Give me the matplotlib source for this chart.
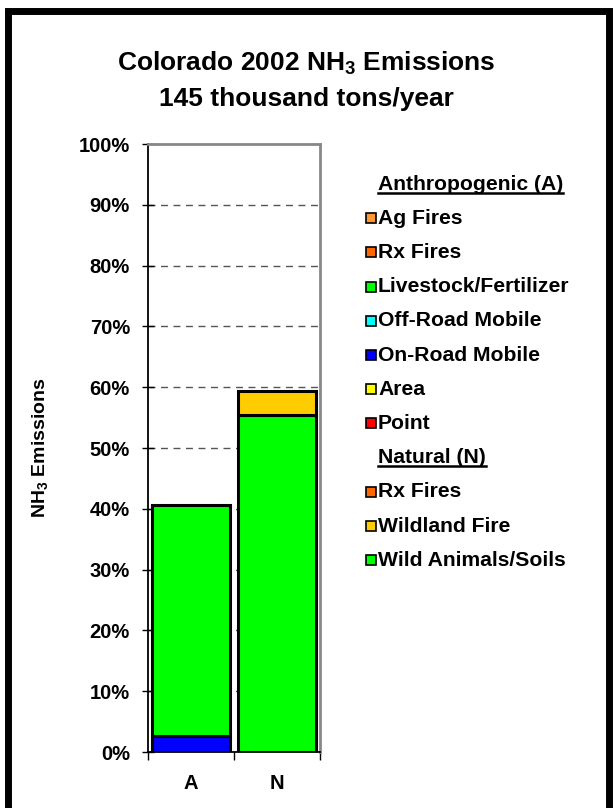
import numpy as np
import matplotlib
matplotlib.use('Agg')
import matplotlib.pyplot as plt
from matplotlib.patches import Rectangle
from matplotlib.lines import Line2D

plt.rcParams['font.family'] = ['Liberation Sans', 'DejaVu Sans']
plt.rcParams['font.weight'] = 'bold'
plt.rcParams['mathtext.fontset'] = 'custom'
plt.rcParams['mathtext.rm'] = 'Liberation Sans:bold'
plt.rcParams['mathtext.bf'] = 'Liberation Sans:bold'
plt.rcParams['mathtext.default'] = 'bf'

categories = ['A', 'N']

# anthropogenic sources (bar A), percent of total
anthro_labels = ['Ag Fires', 'Rx Fires', 'Livestock/Fertilizer', 'Off-Road Mobile',
                 'On-Road Mobile', 'Area', 'Point']
anthro_colors = ['#FF9933', '#FF6600', '#00FF00', '#00FFFF', '#0000FF', '#FFFF00', '#FF0000']
anthro_values = [0.0, 0.0, 38.0, 0.0, 2.6, 0.0, 0.0]

# natural sources (bar N), percent of total
natural_labels = ['Rx Fires', 'Wildland Fire', 'Wild Animals/Soils']
natural_colors = ['#FF6600', '#FFCC00', '#00FF00']
natural_values = [0.0, 3.9, 55.5]

yticks = np.arange(0, 101, 10)

W, H = 613, 808
fig = plt.figure(figsize=(W / 100, H / 100), dpi=100)
ax = fig.add_axes([148 / W, 56 / H, 172 / W, 608 / H])

# stack from the bottom: legend order is top-down, so reverse
def stack(xpos, values, colors):
    bottom = 0.0
    for v, c in zip(values[::-1], colors[::-1]):
        if v <= 0:
            continue
        ax.bar(xpos, v, width=0.91, bottom=bottom, color=c, edgecolor='black',
               linewidth=2.2, zorder=3)
        bottom += v

stack(0, anthro_values, anthro_colors)
stack(1, natural_values, natural_colors)

fs = 14.5
ax.set_xlim(-0.5, 1.5)
ax.set_ylim(0, 100)
ax.set_yticks(yticks)
ax.set_yticklabels(['%d%%' % t for t in yticks], fontsize=fs, fontweight='bold')
ax.set_xticks([0, 1])
ax.set_xticklabels(categories, fontsize=fs, fontweight='bold')
ax.set_xticks([-0.5, 0.5, 1.5], minor=True)
ax.tick_params(axis='x', which='major', length=0, pad=16)
ax.tick_params(axis='x', which='minor', length=6, direction='out', width=1)
ax.tick_params(axis='y', length=8, direction='inout', width=1, pad=9)

for t in yticks[1:-1]:
    ax.axhline(t, color='#555555', linestyle=(0, (5, 4)), linewidth=1, zorder=1)

for s in ['left', 'bottom']:
    ax.spines[s].set_color('black')
    ax.spines[s].set_linewidth(1.3)
for s in ['top', 'right']:
    ax.spines[s].set_color('#888888')
    ax.spines[s].set_linewidth(2)

ax.set_ylabel('NH$_3$ Emissions', fontsize=14, fontweight='bold')
ax.yaxis.set_label_coords(-0.57, 0.5)

fig.text(306 / W, 1 - 63 / H, 'Colorado 2002 NH$_3$ Emissions', ha='center', va='center',
         fontsize=19, fontweight='bold')
fig.text(306 / W, 1 - 99 / H, '145 thousand tons/year', ha='center', va='center',
         fontsize=19, fontweight='bold')

# legend drawn by hand
rows = [('Anthropogenic (A)', None)] + list(zip(anthro_labels, anthro_colors)) + \
       [('Natural (N)', None)] + list(zip(natural_labels, natural_colors))
y0, dy = 184, 34.2
headers = []
for i, (lab, col) in enumerate(rows):
    y = y0 + i * dy
    txt = fig.text(378 / W, 1 - y / H, lab, ha='left', va='center', fontsize=15.2,
                   fontweight='bold')
    if col is None:
        headers.append(txt)
    else:
        fig.add_artist(Rectangle((366 / W, 1 - (y + 5) / H), 10 / W, 10 / H,
                                 transform=fig.transFigure, facecolor=col,
                                 edgecolor='black', linewidth=1.2))

fig.canvas.draw()
r = fig.canvas.get_renderer()
for txt in headers:
    bb = txt.get_window_extent(renderer=r)
    yl = bb.y0 + 1
    fig.add_artist(Line2D([bb.x0 / W, bb.x1 / W], [yl / H, yl / H],
                          transform=fig.transFigure, color='black', linewidth=1.8))

# outer frame (bottom edge runs off the picture)
fig.add_artist(Rectangle((7.5 / W, -10 / H), 601 / W, (H - 1) / H,
                         transform=fig.transFigure, fill=False, edgecolor='black',
                         linewidth=5))

fig.savefig('out.png', dpi=100)
